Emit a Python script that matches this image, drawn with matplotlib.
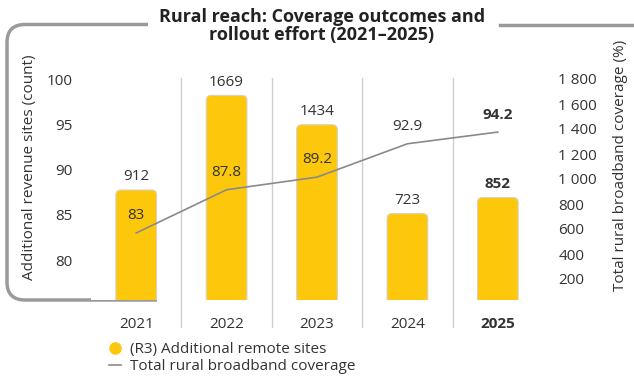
import matplotlib
matplotlib.use("Agg")
import matplotlib.pyplot as plt
from matplotlib.patches import FancyBboxPatch, PathPatch
from matplotlib.path import Path
from matplotlib.lines import Line2D

plt.rcParams['font.family'] = ['Open Sans', 'DejaVu Sans']

years = ["2021", "2022", "2023", "2024", "2025"]
remote_sites = [912, 1669, 1434, 723, 852]
coverage = [83, 87.8, 89.2, 92.9, 94.2]
right_ticks = [200, 400, 600, 800, 1000, 1200, 1400, 1600, 1800]
right_tick_labels = ["200", "400", "600", "800", "1 000", "1 200", "1 400", "1 600", "1 800"]
left_ticks = [80, 85, 90, 95, 100]

BAR = "#FDC70C"
LINE = "#8a8a8a"
TXT = "#333333"
FRAME = "#9a9a9a"
FS = 11

W, H = 634, 381
fig = plt.figure(figsize=(W / 100, H / 100), dpi=100)

def fx(px):
    return px / W

def fy(py):
    return 1 - py / H

ax = fig.add_axes([fx(91), fy(300), fx(543) - fx(91), fy(60) - fy(300)])
ax2 = ax.twinx()

x = list(range(len(years)))

# bars on host axis (right-side scale)
bars = ax.bar(x, remote_sites, width=0.45, color=BAR, zorder=2)
ax.set_xlim(-0.5, 4.5)
ax.set_ylim(32, 1952)
# round the bar tops
px_x = 5.0 / 452  # data units per px (x)
px_y = (1952 - 32) / 240.0
for b in bars:
    bx, by = b.get_x(), b.get_y()
    bw, bh = b.get_width(), b.get_height()
    b.set_visible(False)
    fp = FancyBboxPatch((bx, by), bw, bh,
                        boxstyle="round,pad=0,rounding_size=%f" % (5 * px_x),
                        mutation_aspect=px_y / px_x,
                        facecolor=BAR, edgecolor="#d9d2bf", linewidth=0.8,
                        zorder=2)
    ax.add_patch(fp)

ax.yaxis.tick_right()
ax.set_yticks(right_ticks)
ax.set_yticklabels(right_tick_labels)
ax.tick_params(axis='y', length=0, pad=11, labelsize=FS, labelcolor=TXT)
ax.set_xticks(x)
ax.set_xticklabels(years)
ax.tick_params(axis='x', length=0, pad=12.5, labelsize=FS, labelcolor=TXT)
ax.get_xticklabels()[-1].set_fontweight('bold')
for s in ax.spines.values():
    s.set_visible(False)

# separators
for sx in [0.5, 1.5, 2.5, 3.5]:
    ax.plot([sx, sx], [-0.1125, 0.925], transform=ax.get_xaxis_transform(),
            color="#cfcfcf", lw=1.0, clip_on=False, zorder=1)

# bar labels
for i, v in enumerate(remote_sites):
    ax.annotate(f"{v}", (x[i], v), xytext=(0, 9.5), textcoords="offset points",
                ha="center", va="center", fontsize=FS, color=TXT,
                fontweight="bold" if i == len(x) - 1 else "normal", zorder=5)

# line on twin axis (left scale)
ax2.plot(x, coverage, color=LINE, lw=1.2, zorder=3)
ax2.set_ylim(75.56, 102.2)
ax2.yaxis.tick_left()
ax2.set_yticks(left_ticks)
ax2.tick_params(axis='y', length=0, pad=13, labelsize=FS, labelcolor=TXT)
for s in ax2.spines.values():
    s.set_visible(False)
for i, v in enumerate(coverage):
    lab = f"{v:g}"
    ax2.annotate(lab, (x[i], v), xytext=(0, 12.5), textcoords="offset points",
                 ha="center", va="center", fontsize=FS, color=TXT,
                 fontweight="bold" if i == len(x) - 1 else "normal")

# axis titles
fig.text(fx(30), fy(167), "Additional revenue sites (count)", rotation=90,
         ha="center", va="center", fontsize=FS, color=TXT)
fig.text(fx(621), fy(165), "Total rural broadband coverage (%)", rotation=90,
         ha="center", va="center", fontsize=FS, color=TXT)

# title
fig.text(fx(322), fy(26), "Rural reach: Coverage outcomes and\nrollout effort (2021\u20132025)",
         ha="center", va="center", fontsize=13, fontweight="bold", color="#222222",
         linespacing=0.95)

# decorative frame
r = 18
verts = [(148, 24.5), (7 + r, 24.5), (7, 24.5), (7, 24.5 + r), (7, 300 - r),
         (7, 300), (7 + r, 300), (157, 300)]
codes = [Path.MOVETO, Path.LINETO, Path.CURVE3, Path.CURVE3, Path.LINETO,
         Path.CURVE3, Path.CURVE3, Path.LINETO]
fverts = [(fx(a), fy(b)) for a, b in verts]
fig.add_artist(PathPatch(Path(fverts, codes), transform=fig.transFigure,
                         fill=False, edgecolor=FRAME, lw=2.5, zorder=0))
fig.add_artist(Line2D([fx(500), fx(633)], [fy(24.5), fy(24.5)],
                      transform=fig.transFigure, color=FRAME, lw=2.5))

# legend
handles = [Line2D([], [], marker='o', linestyle='none', markersize=8,
                  markerfacecolor=BAR, markeredgecolor=BAR),
           Line2D([], [], color=LINE, lw=1.2)]
fig.legend(handles, ["(R3) Additional remote sites", "Total rural broadband coverage"],
           loc="upper left", bbox_to_anchor=(fx(109), fy(342)), frameon=False,
           handlelength=0.8, handletextpad=0.6, labelspacing=0.15,
           borderpad=0, borderaxespad=0, fontsize=FS, labelcolor=TXT)

fig.savefig("out.png", dpi=100)
